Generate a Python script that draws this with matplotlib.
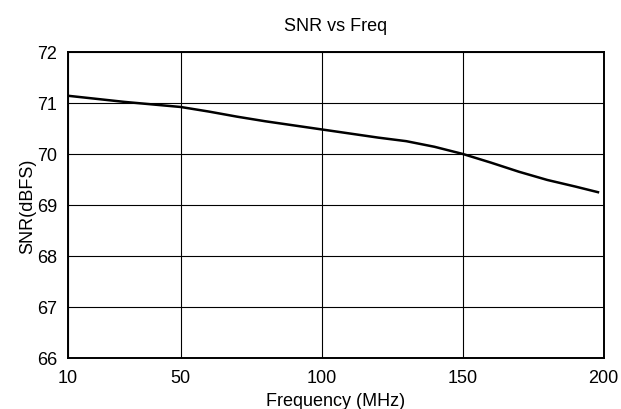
import matplotlib
matplotlib.use("Agg")
import matplotlib.pyplot as plt

# datos
freq_mhz = [10, 20, 30, 40, 50, 60, 70, 80, 90, 100,
            110, 120, 130, 140, 150, 160, 170, 180, 190, 198]
snr_dbfs = [71.14, 71.08, 71.02, 70.97, 70.92, 70.83, 70.73, 70.64, 70.56, 70.48,
            70.40, 70.32, 70.25, 70.14, 70.00, 69.83, 69.65, 69.49, 69.36, 69.25]
x_ticks = [10, 50, 100, 150, 200]
y_ticks = [66, 67, 68, 69, 70, 71, 72]

plt.rcParams['font.family'] = ['Liberation Sans', 'DejaVu Sans']

fig = plt.figure(figsize=(6.21, 4.10), dpi=100)
ax = fig.add_axes([0.1095, 0.1244, 0.8625, 0.7466])

ax.plot(freq_mhz, snr_dbfs, color='black', linewidth=1.8)

ax.set_xlim(10, 200)
ax.set_ylim(66, 72)
ax.set_xticks(x_ticks)
ax.set_yticks(y_ticks)
ax.grid(True, color='black', linewidth=0.8)
ax.tick_params(axis='x', length=0, labelsize=13, pad=8)
ax.tick_params(axis='y', length=0, labelsize=13, pad=8)
for s in ax.spines.values():
    s.set_linewidth(1.4)

ax.set_title("SNR vs Freq", fontsize=13, pad=16)
ax.set_xlabel("Frequency (MHz)", fontsize=13, labelpad=4)
ax.set_ylabel("SNR(dBFS)", fontsize=13, labelpad=0)

fig.savefig("out.png", dpi=100)
